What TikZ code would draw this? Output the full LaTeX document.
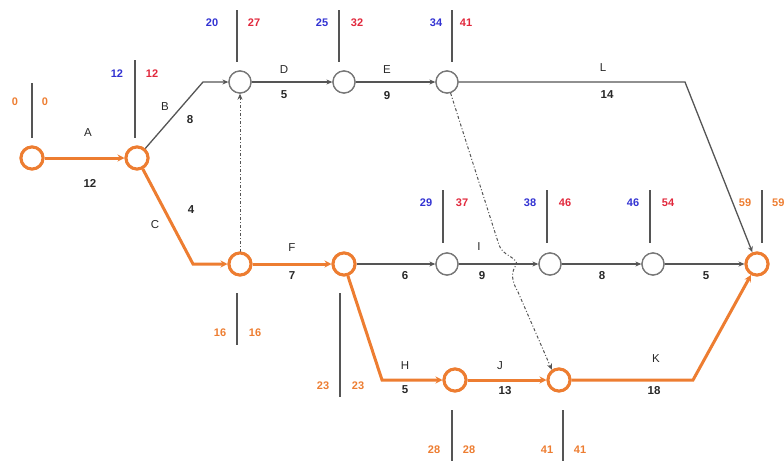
\documentclass[tikz,border=0pt]{standalone}
\usepackage{fontspec}
\setmainfont{Liberation Sans}
\usetikzlibrary{arrows.meta}
\definecolor{corange}{RGB}{237,125,49}
\definecolor{cgray}{RGB}{85,85,85}
\definecolor{cblue}{RGB}{50,50,210}
\definecolor{cred}{RGB}{225,40,60}
\definecolor{ctext}{RGB}{40,40,40}
\tikzset{
  ev/.style={circle, draw=cgray!80, line width=1.3pt, fill=white, minimum size=22pt, inner sep=0pt},
  crit/.style={ev, draw=corange, line width=3pt},
  gedge/.style={draw=cgray, line width=1.3pt, -{Stealth[length=6pt,width=5pt]}},
  oedge/.style={draw=corange, line width=3pt, -{Stealth[length=7pt,width=7pt]}},
  dummy/.style={draw=cgray, line width=1pt, dash dot, -{Stealth[length=6pt,width=5pt]}},
  tagline/.style={draw=cgray, line width=1.2pt},
  lett/.style={text=ctext, font=\fontsize{11.5}{12}\selectfont, inner sep=0pt},
  dur/.style={text=ctext, font=\fontsize{11.5}{12}\selectfont\bfseries, inner sep=0pt},
  tnum/.style={font=\fontsize{11}{12}\selectfont\bfseries, inner sep=0pt},
}
\begin{document}
\begin{tikzpicture}[x=1pt,y=-1pt]
\useasboundingbox (0,0) rectangle (784,461);
% events
\node[crit] (n1) at (32,158) {};
\node[crit] (n2) at (137,158) {};
\node[ev] (n3) at (240,82) {};
\node[ev] (n4) at (344,82) {};
\node[ev] (n5) at (447,82) {};
\node[crit] (n6) at (240,264) {};
\node[crit] (n7) at (344,264) {};
\node[ev] (n8) at (447,264) {};
\node[ev] (n9) at (550,264) {};
\node[ev] (n10) at (653,264) {};
\node[crit] (n11) at (757,264) {};
\node[crit] (n12) at (455,380) {};
\node[crit] (n13) at (559,380) {};
% bend points
\coordinate (bB) at (203,82);
\coordinate (bC) at (193,264);
\coordinate (bL) at (685,82);
\coordinate (bH) at (382,380);
\coordinate (bK) at (693,380);
\coordinate (d1) at (499,245);
\coordinate (d2) at (517,264);
\coordinate (d3) at (518,292);
% dummies
\draw[dummy] (n6) -- (n3);
\draw[dummy] (n5.-72) -- (d1) .. controls (503,256) and (515,256) .. (d2) .. controls (510,272) and (512,282) .. (d3) -- (n13.125);
% grey activities
\draw[gedge] (n2) -- (bB) -- (n3);
\draw[gedge] (n3) -- (n4);
\draw[gedge] (n4) -- (n5);
\draw[gedge] (n5) -- (bL) -- (n11);
\draw[gedge] (n7) -- (n8);
\draw[gedge] (n8) -- (n9);
\draw[gedge] (n9) -- (n10);
\draw[gedge] (n10) -- (n11);
% critical activities
\draw[oedge] (n1) -- (n2);
\draw[oedge] (n2) -- (bC) -- (n6);
\draw[oedge] (n6) -- (n7);
\draw[oedge] (n7) -- (bH) -- (n12);
\draw[oedge] (n12) -- (n13);
\draw[oedge] (n13) -- (bK) -- (n11);
% redraw events on top
\foreach \n in {n3,n4,n5,n8,n9,n10} \node[ev] at (\n) {};
\foreach \n in {n1,n2,n6,n7,n11,n12,n13} \node[crit] at (\n) {};
% activity labels
\node[lett] (lA) at (88,133) {A};
\node[dur] (dA) at (90,183) {12};
\node[lett] (lB) at (165,107) {B};
\node[dur] (dB) at (190,120) {8};
\node[lett] (lC) at (155,225) {C};
\node[dur] (dC) at (191,210) {4};
\node[lett] (lD) at (284,70) {D};
\node[dur] (dD) at (284,95) {5};
\node[lett] (lE) at (387,70) {E};
\node[dur] (dE) at (387,96) {9};
\node[lett] (lL) at (603,68) {L};
\node[dur] (dL) at (607,95) {14};
\node[lett] (lF) at (292,248) {F};
\node[dur] (dF) at (292,276) {7};
\node[dur] (d6) at (405,276) {6};
\node[lett] (lI) at (479,247) {I};
\node[dur] (dI) at (482,276) {9};
\node[dur] (d8) at (602,276) {8};
\node[dur] (d5) at (706,276) {5};
\node[lett] (lH) at (405,366) {H};
\node[dur] (dH) at (405,390) {5};
\node[lett] (lJ) at (500,366) {J};
\node[dur] (dJ) at (505,391) {13};
\node[lett] (lK) at (656,359) {K};
\node[dur] (dK) at (654,391) {18};
% event time tags
\draw[tagline] (32,83) -- (32,138);
\node[tnum, text=corange] (e1) at (15,102) {0};
\node[tnum, text=corange] (l1) at (45,102) {0};
\draw[tagline] (135,60) -- (135,138);
\node[tnum, text=cblue] (e2) at (117,74) {12};
\node[tnum, text=cred] (l2) at (152,74) {12};
\draw[tagline] (237,10) -- (237,62);
\node[tnum, text=cblue] (e3) at (212,23) {20};
\node[tnum, text=cred] (l3) at (254,23) {27};
\draw[tagline] (339,10) -- (339,62);
\node[tnum, text=cblue] (e4) at (322,23) {25};
\node[tnum, text=cred] (l4) at (357,23) {32};
\draw[tagline] (452,10) -- (452,62);
\node[tnum, text=cblue] (e5) at (436,23) {34};
\node[tnum, text=cred] (l5) at (466,23) {41};
\draw[tagline] (443,190) -- (443,243);
\node[tnum, text=cblue] (e8) at (426,203) {29};
\node[tnum, text=cred] (l8) at (462,203) {37};
\draw[tagline] (547,190) -- (547,243);
\node[tnum, text=cblue] (e9) at (530,203) {38};
\node[tnum, text=cred] (l9) at (565,203) {46};
\draw[tagline] (650,190) -- (650,243);
\node[tnum, text=cblue] (e10) at (633,203) {46};
\node[tnum, text=cred] (l10) at (668,203) {54};
\draw[tagline] (762,190) -- (762,243);
\node[tnum, text=corange] (e11) at (745,203) {59};
\node[tnum, text=corange, anchor=west] (l11) at (772,203) {59};
\draw[tagline] (237,293) -- (237,345);
\node[tnum, text=corange] (e6) at (220,333) {16};
\node[tnum, text=corange] (l6) at (255,333) {16};
\draw[tagline] (340,293) -- (340,397);
\node[tnum, text=corange] (e7) at (323,386) {23};
\node[tnum, text=corange] (l7) at (358,386) {23};
\draw[tagline] (452,410) -- (452,461);
\node[tnum, text=corange] (e12) at (434,450) {28};
\node[tnum, text=corange] (l12) at (469,450) {28};
\draw[tagline] (563,410) -- (563,461);
\node[tnum, text=corange] (e13) at (547,450) {41};
\node[tnum, text=corange] (l13) at (580,450) {41};
\end{tikzpicture}
\end{document}
